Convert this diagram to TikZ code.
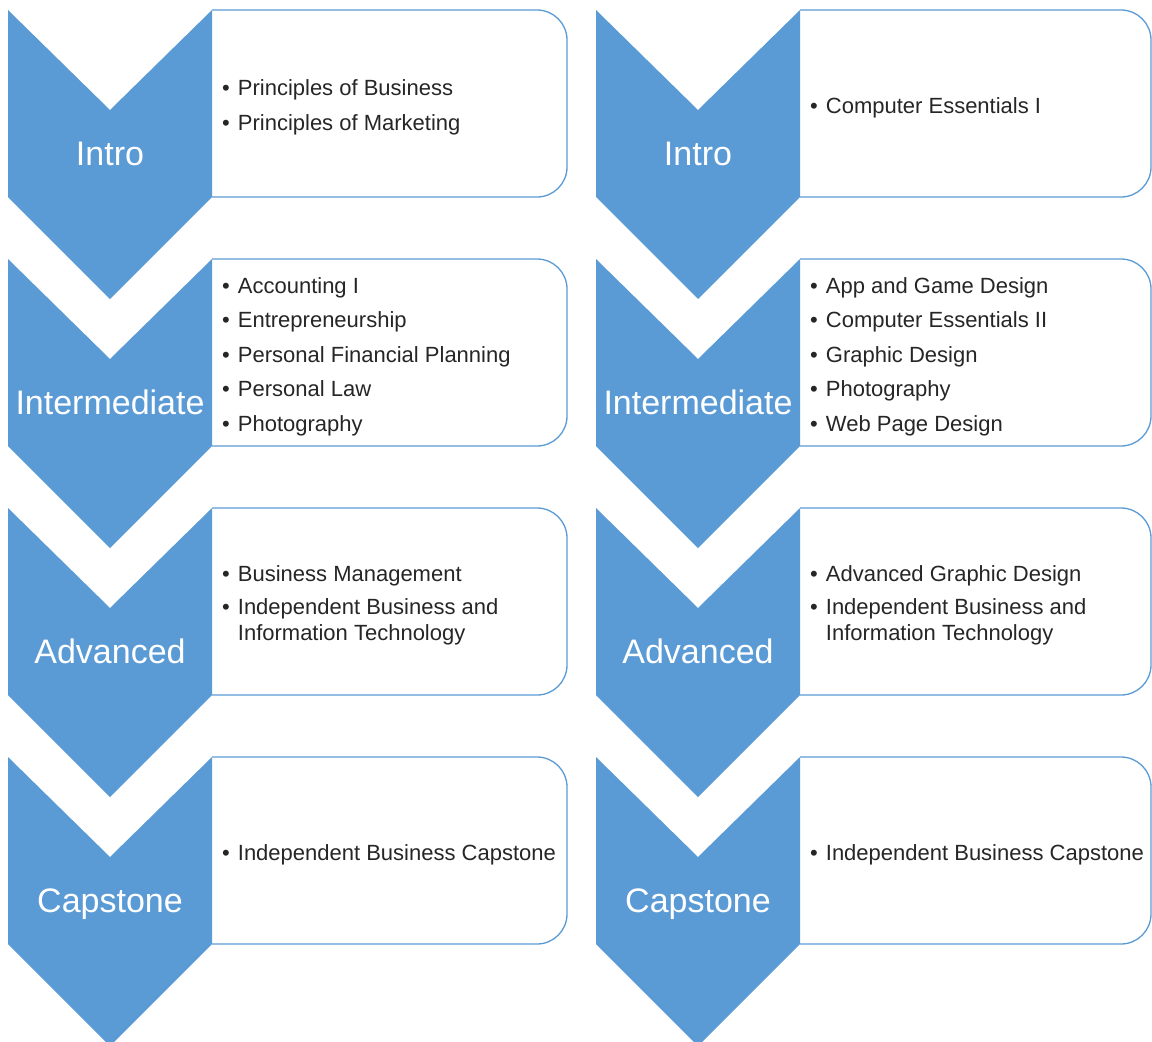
\documentclass[tikz,border=0pt]{standalone}
\usepackage{fontspec}
\setmainfont{Liberation Sans}
\usetikzlibrary{positioning}
\definecolor{stageblue}{HTML}{5B9BD5}
\definecolor{coursetext}{HTML}{262626}

\begin{document}
\begin{tikzpicture}[x=1pt,y=-1pt,
    stage/.style={fill=stageblue, draw=none},
    coursebox/.style={draw=stageblue, line width=1.3pt, fill=white, rounded corners=30pt},
    stagelabel/.style={text=white, inner sep=0pt, text height=25pt, text depth=0pt,
        font=\fontsize{34}{40}\selectfont},
    courselist/.style={anchor=west, inner sep=0pt, text=coursetext,
        font=\fontsize{22}{26}\selectfont}]
    \useasboundingbox (0,0) rectangle (1152,1042);

    % chevrons and boxes, both columns
    \foreach \col/\x/\r in {L/8/567, R/596/1151} {
        \foreach \row/\t/\lab in {1/10/Intro, 2/259/Intermediate, 3/508/Advanced, 4/757/Capstone} {
            \draw[coursebox] (\x+204,\t) -- (\r,\t) -- (\r,\t+187) -- (\x+204,\t+187);
            \fill[stage] (\x,\t) -- (\x+102,\t+100) -- (\x+204,\t) -- (\x+204,\t+187)
                -- (\x+102,\t+289) -- (\x,\t+187) -- cycle;
            \node[stagelabel] (stage\col\row) at (\x+102,\t+143) {\lab};
        }
    }

    % business column
    \node[courselist] (listL1) at (222,107.8) {\begin{tabular}{@{}l@{\hspace{8pt}}l@{}}
        \textbullet & Principles of Business\\[8.5pt]
        \textbullet & Principles of Marketing
    \end{tabular}};
    \node[courselist] (listL2) at (222,356.8) {\begin{tabular}{@{}l@{\hspace{8pt}}l@{}}
        \textbullet & Accounting I\\[8.5pt]
        \textbullet & Entrepreneurship\\[8.5pt]
        \textbullet & Personal Financial Planning\\[8.5pt]
        \textbullet & Personal Law\\[8.5pt]
        \textbullet & Photography
    \end{tabular}};
    \node[courselist] (listL3) at (222,605.8) {\begin{tabular}{@{}l@{\hspace{8pt}}l@{}}
        \textbullet & Business Management\\[7pt]
        \textbullet & Independent Business and\\
                    & Information Technology
    \end{tabular}};
    \node[courselist] (listL4) at (222,854.8) {\begin{tabular}{@{}l@{\hspace{8pt}}l@{}}
        \textbullet & Independent Business Capstone
    \end{tabular}};

    % computer column
    \node[courselist] (listR1) at (810,107.8) {\begin{tabular}{@{}l@{\hspace{8pt}}l@{}}
        \textbullet & Computer Essentials I
    \end{tabular}};
    \node[courselist] (listR2) at (810,356.8) {\begin{tabular}{@{}l@{\hspace{8pt}}l@{}}
        \textbullet & App and Game Design\\[8.5pt]
        \textbullet & Computer Essentials II\\[8.5pt]
        \textbullet & Graphic Design\\[8.5pt]
        \textbullet & Photography\\[8.5pt]
        \textbullet & Web Page Design
    \end{tabular}};
    \node[courselist] (listR3) at (810,605.8) {\begin{tabular}{@{}l@{\hspace{8pt}}l@{}}
        \textbullet & Advanced Graphic Design\\[7pt]
        \textbullet & Independent Business and\\
                    & Information Technology
    \end{tabular}};
    \node[courselist] (listR4) at (810,854.8) {\begin{tabular}{@{}l@{\hspace{8pt}}l@{}}
        \textbullet & Independent Business Capstone
    \end{tabular}};
\end{tikzpicture}
\end{document}
